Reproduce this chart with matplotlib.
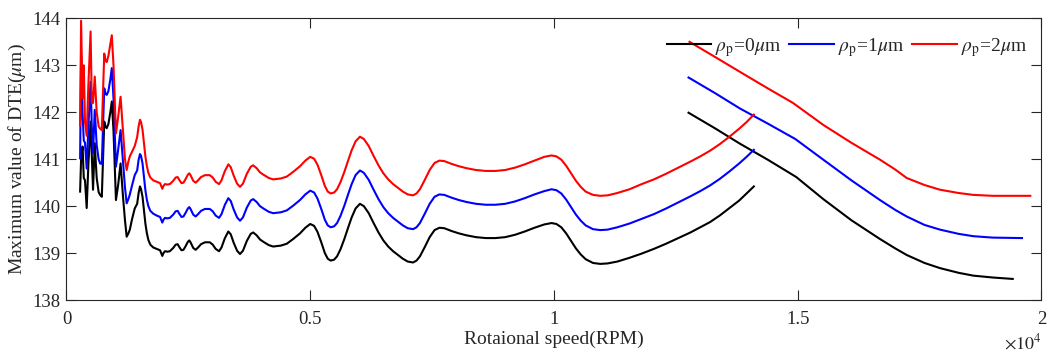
import matplotlib
matplotlib.use('agg')
import matplotlib.pyplot as plt

plt.rcParams['font.family'] = ['Liberation Serif', 'DejaVu Serif']
plt.rcParams['mathtext.fontset'] = 'stix'

# main branch (speed sweep up), shared speed grid, RPM
speed = [280, 300, 330, 355, 380, 415, 450, 495, 520, 545, 580, 620, 660, 690, 725,
         775, 800, 825, 860, 900, 930, 965, 1015, 1060, 1110, 1160, 1200, 1235, 1270,
         1300, 1340, 1400,
         1450, 1480, 1508, 1530, 1560, 1590, 1620, 1650, 1680, 1720,
         1780, 1850, 1920, 1950, 1966, 1990, 2020, 2070, 2120, 2190,
         2240, 2280, 2320, 2360, 2400, 2440, 2490, 2520, 2550, 2600,
         2650, 2700, 2760, 2840, 2940, 3000, 3060, 3130, 3180, 3250,
         3320, 3370, 3430, 3500, 3560, 3620, 3700, 3780, 3830, 3900,
         3970, 4040, 4150, 4240, 4400, 4520, 4650, 4790, 4900, 5000,
         5080, 5150, 5230, 5300, 5360, 5420, 5490, 5550, 5620, 5700,
         5780, 5850, 5930, 6020, 6100, 6200, 6300, 6400, 6500, 6600,
         6700, 6800, 6900, 7000, 7110, 7180, 7250, 7350, 7450, 7550,
         7650, 7750, 7900, 8050, 8200, 8400, 8600, 8800, 9000, 9200,
         9400, 9600, 9800, 9950, 10050, 10150, 10250, 10350, 10450, 10550,
         10650, 10800, 10950, 11100, 11300, 11550, 11800, 12050, 12300, 12550,
         12800, 13000, 13200, 13400, 13600, 13800, 13950, 14100]

dte_p0 = [140.31, 141.0, 141.27, 140.6, 140.55, 139.96, 140.9, 141.8, 141.06, 140.35,
          141.34, 140.6, 140.3, 140.24, 140.2, 141.8, 141.7, 141.66, 141.75, 142.0,
          142.23, 141.6, 140.13, 140.45, 140.91, 140.2, 139.7, 139.35, 139.42, 139.5,
          139.7, 139.95,
          140.05, 140.28, 140.42, 140.36, 140.2, 139.92, 139.62, 139.42, 139.28, 139.18,
          139.12, 139.09, 139.06, 138.98, 138.94, 139.0, 139.04, 139.03, 139.04, 139.11,
          139.18, 139.19, 139.12, 139.06, 139.07, 139.14, 139.24, 139.27, 139.22, 139.11,
          139.07, 139.12, 139.19, 139.23, 139.23, 139.18, 139.09, 139.04, 139.12, 139.32,
          139.46, 139.4, 139.22, 139.05, 138.98, 139.05, 139.26, 139.41, 139.44, 139.38,
          139.29, 139.24, 139.17, 139.14, 139.16, 139.2, 139.3, 139.42, 139.54, 139.62,
          139.58, 139.45, 139.22, 139.0, 138.88, 138.84, 138.86, 138.93, 139.08, 139.3,
          139.55, 139.76, 139.95, 140.05, 140.0, 139.85, 139.64, 139.44, 139.27, 139.14,
          139.04, 138.96, 138.88, 138.82, 138.80, 138.84, 138.93, 139.13, 139.34, 139.49,
          139.54, 139.53, 139.47, 139.42, 139.38, 139.34, 139.32, 139.32, 139.34, 139.39,
          139.46, 139.54, 139.61, 139.64, 139.62, 139.55, 139.42, 139.26, 139.1, 138.97,
          138.87, 138.79, 138.77, 138.78, 138.82, 138.9, 138.99, 139.09, 139.2, 139.32,
          139.44, 139.55, 139.66, 139.8, 139.96, 140.12, 140.27, 140.42]

dte_p1 = [141.02, 143.2, 141.98, 141.4, 141.35, 140.8, 141.7, 142.65, 141.69, 141.13,
          142.05, 141.3, 141.0, 140.91, 140.9, 142.51, 142.4, 142.37, 142.45, 142.7,
          142.94, 142.3, 140.84, 141.2, 141.62, 140.95, 140.4, 140.06, 140.15, 140.25,
          140.42, 140.66,
          140.76, 140.99, 141.11, 141.07, 140.91, 140.63, 140.33, 140.13, 140.0, 139.9,
          139.84, 139.8, 139.77, 139.69, 139.65, 139.71, 139.75, 139.74, 139.75, 139.82,
          139.89, 139.9, 139.83, 139.77, 139.78, 139.85, 139.95, 139.98, 139.93, 139.82,
          139.78, 139.83, 139.9, 139.94, 139.94, 139.89, 139.8, 139.75, 139.83, 140.03,
          140.17, 140.11, 139.93, 139.76, 139.69, 139.76, 139.97, 140.12, 140.15, 140.09,
          140.0, 139.95, 139.88, 139.85, 139.87, 139.91, 140.01, 140.13, 140.25, 140.33,
          140.29, 140.16, 139.93, 139.71, 139.59, 139.55, 139.57, 139.64, 139.79, 140.01,
          140.26, 140.47, 140.66, 140.76, 140.71, 140.56, 140.35, 140.15, 139.98, 139.85,
          139.75, 139.67, 139.59, 139.53, 139.51, 139.55, 139.64, 139.84, 140.05, 140.2,
          140.25, 140.24, 140.18, 140.13, 140.09, 140.05, 140.03, 140.03, 140.05, 140.1,
          140.17, 140.25, 140.32, 140.36, 140.34, 140.27, 140.14, 139.98, 139.82, 139.69,
          139.59, 139.51, 139.49, 139.5, 139.55, 139.63, 139.73, 139.83, 139.95, 140.08,
          140.21, 140.32, 140.44, 140.58, 140.74, 140.91, 141.05, 141.2]

dte_p2 = [141.72, 143.95, 142.3, 143.0, 141.8, 141.5, 142.6, 143.72, 142.19, 142.2,
          142.76, 142.0, 141.7, 141.65, 141.62, 143.25, 143.1, 143.07, 143.2, 143.45,
          143.64, 143.0, 141.55, 141.9, 142.33, 141.6, 141.0, 140.77, 140.95, 141.06,
          141.15, 141.28,
          141.47, 141.7, 141.84, 141.79, 141.63, 141.35, 141.05, 140.85, 140.71, 140.61,
          140.55, 140.52, 140.49, 140.41, 140.37, 140.43, 140.47, 140.46, 140.47, 140.54,
          140.61, 140.62, 140.55, 140.49, 140.5, 140.57, 140.67, 140.7, 140.65, 140.54,
          140.5, 140.55, 140.62, 140.66, 140.66, 140.61, 140.52, 140.47, 140.55, 140.75,
          140.89, 140.83, 140.65, 140.48, 140.41, 140.48, 140.69, 140.84, 140.87, 140.81,
          140.72, 140.67, 140.6, 140.57, 140.59, 140.63, 140.73, 140.85, 140.97, 141.05,
          141.01, 140.88, 140.65, 140.43, 140.31, 140.27, 140.29, 140.36, 140.51, 140.73,
          140.98, 141.19, 141.38, 141.48, 141.43, 141.28, 141.07, 140.87, 140.7, 140.57,
          140.47, 140.39, 140.31, 140.25, 140.23, 140.27, 140.36, 140.56, 140.77, 140.92,
          140.97, 140.96, 140.9, 140.85, 140.81, 140.77, 140.75, 140.75, 140.77, 140.82,
          140.89, 140.97, 141.05, 141.08, 141.06, 140.99, 140.86, 140.7, 140.54, 140.41,
          140.31, 140.24, 140.22, 140.23, 140.28, 140.36, 140.47, 140.57, 140.69, 140.82,
          140.95, 141.06, 141.18, 141.32, 141.48, 141.65, 141.79, 141.95]

# upper branch (high speed)
speed_up_p0 = [12760, 13300, 13815, 14400, 14970, 15524, 16100, 16687, 17000, 17235,
               17600, 17918, 18300, 18601, 19000, 19410]
dte_up_p0 = [141.99, 141.66, 141.33, 140.98, 140.62, 140.15, 139.7, 139.3, 139.1, 138.96,
             138.79, 138.68, 138.58, 138.52, 138.48, 138.45]
speed_up_p1 = [12760, 13300, 13815, 14400, 14950, 15524, 16100, 16687, 17000, 17235,
               17600, 17918, 18300, 18601, 19000, 19600]
dte_up_p1 = [142.74, 142.41, 142.08, 141.75, 141.43, 140.99, 140.55, 140.13, 139.92, 139.78,
             139.6, 139.5, 139.41, 139.36, 139.33, 139.32]
speed_up_p2 = [12780, 13300, 13815, 14400, 14900, 15524, 16100, 16687, 17000, 17235,
               17600, 17918, 18300, 18601, 19000, 19770]
dte_up_p2 = [143.5, 143.18, 142.86, 142.5, 142.2, 141.73, 141.35, 140.99, 140.78, 140.6,
             140.45, 140.35, 140.28, 140.24, 140.22, 140.22]

labels = [r'$\rho_{\rm p}$=0$\mu$m', r'$\rho_{\rm p}$=1$\mu$m', r'$\rho_{\rm p}$=2$\mu$m']
colors = ['black', 'blue', 'red']

fig = plt.figure(figsize=(10.5, 3.53), dpi=100)
ax = fig.add_axes([0.0633, 0.150, 0.9286, 0.798])

main = [dte_p0, dte_p1, dte_p2]
upper = [(speed_up_p0, dte_up_p0), (speed_up_p1, dte_up_p1), (speed_up_p2, dte_up_p2)]
for i in range(3):
    ax.plot(speed, main[i], color=colors[i], lw=1.5, label=labels[i])
    ax.plot(upper[i][0], upper[i][1], color=colors[i], lw=1.5)

ax.set_xlim(0, 20000)
ax.set_ylim(138, 144)
ax.set_xticks([0, 5000, 10000, 15000, 20000])
ax.set_xticklabels(['0', '0.5', '1', '1.5', '2'])
ax.set_yticks([138, 139, 140, 141, 142, 143, 144])

txt = '#262626'
ax.tick_params(direction='in', length=7, width=0.8, top=True, right=True,
               labelsize=13.5, colors=txt)
ax.tick_params(axis='x', pad=8)
ax.tick_params(axis='y', pad=4.5)
for s in ax.spines.values():
    s.set_color(txt)
    s.set_linewidth(0.8)

ax.set_xlabel('Rotaional speed(RPM)', fontsize=14, color=txt, labelpad=2)
ax.set_ylabel(r'Maximum value of DTE($\mu$m)', fontsize=14, color=txt, labelpad=3)
ax.text(1.0, -0.117, r'$\times10^{4}$', transform=ax.transAxes, ha='right', va='top',
        fontsize=13, color=txt)

ax.legend(loc='upper right', bbox_to_anchor=(0.993, 0.965), ncol=3, frameon=False,
          fontsize=14, handlelength=2.3, handletextpad=0.2, columnspacing=0.4,
          borderaxespad=0, labelcolor=txt)

fig.savefig('out.png', dpi=100)
plt.close(fig)
